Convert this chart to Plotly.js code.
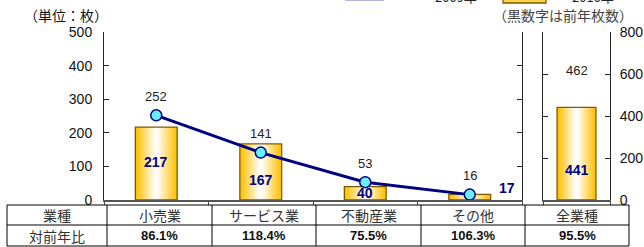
<!DOCTYPE html>
<html><head><meta charset="utf-8">
<script src="https://cdn.plot.ly/plotly-3.0.1.min.js"></script>
<style>html,body{margin:0;padding:0;background:#fff;}#chart{width:644px;height:247px;}</style>
</head><body><div id="chart"></div>
<script>
// ---- data ----
const categories = ['小売業', 'サービス業', '不動産業', 'その他'];
const prevYear = [252, 141, 53, 16];      // 2009年 (line, black numbers)
const currYear = [217, 167, 40, 17];      // 2010年 (bars)
const totalCategory = ['全業種'];
const totalPrev = [462];
const totalCurr = [441];
const headerRow = ['業種', '小売業', 'サービス業', '不動産業', 'その他', '全業種'];
const ratioRow = ['対前年比', '86.1%', '118.4%', '75.5%', '106.3%', '95.5%'];
const legendNames = ['2009年', '2010年'];

// ---- styles ----
const W = 644, H = 247;
const NUM_FONT = 'Liberation Sans, Arial, sans-serif';
const JP_FONT = 'Noto Sans CJK JP, sans-serif';
const GOLD = [255, 192, 0];
const NAVY = '#000080';
const barLabelShift = [2, -8, 0, 9];
const barLabelXShift = [0, 0, 0, 37];
const tableCols = [7, 107, 212, 316, 421, 525, 629];   // pixel column edges
const tableRows = [205, 225, 246];                      // pixel row edges

function mix(t) {
  const c = GOLD.map(v => Math.round(v + (255 - v) * t));
  return 'rgb(' + c.join(',') + ')';
}
function gradientBars(x, y, xa, ya, width) {
  const N = 14, out = [];
  for (let i = 0; i < N; i++) {
    out.push({type: 'bar', x: x, y: y, xaxis: xa, yaxis: ya, width: width * (1 - i / N),
      marker: {color: mix(i / (N - 1)), line: {width: 0}}, hoverinfo: 'skip', showlegend: false});
  }
  out.push({type: 'bar', x: x, y: y, xaxis: xa, yaxis: ya, width: width,
    marker: {color: 'rgba(0,0,0,0)', line: {width: 1.3, color: '#7a5c00'}}, hoverinfo: 'skip', showlegend: false});
  return out;
}
const px = x => x / W, py = y => 1 - y / H;

const traces = [];
traces.push(...gradientBars(categories, currYear, 'x', 'y', 0.4));
traces.push(...gradientBars(totalCategory, totalCurr, 'x2', 'y2', 0.58));
traces.push({type: 'scatter', mode: 'lines+markers', x: categories, y: prevYear,
  xaxis: 'x', yaxis: 'y',
  line: {color: NAVY, width: 3}, marker: {size: 11, color: '#66f0ff', line: {color: NAVY, width: 1.5}},
  hoverinfo: 'skip', showlegend: false, cliponaxis: false});

const annotations = [];
prevYear.forEach((v, i) => annotations.push({x: categories[i], y: v, xref: 'x', yref: 'y',
  text: String(v), showarrow: false, yshift: 19, xanchor: 'center', yanchor: 'middle',
  font: {family: NUM_FONT, size: 13, color: '#222'}}));
currYear.forEach((v, i) => annotations.push({x: categories[i], y: v / 2, xref: 'x', yref: 'y',
  text: '<b>' + v + '</b>', showarrow: false, yshift: barLabelShift[i], xshift: barLabelXShift[i],
  xanchor: 'center', yanchor: 'middle', font: {family: NUM_FONT, size: 14, color: NAVY}}));
annotations.push({x: totalCategory[0], y: totalCurr[0] / 2, xref: 'x2', yref: 'y2', text: '<b>' + totalCurr[0] + '</b>',
  showarrow: false, yshift: -16, xanchor: 'center', yanchor: 'middle', font: {family: NUM_FONT, size: 14, color: NAVY}});
annotations.push({x: totalCategory[0], y: totalPrev[0], xref: 'x2', yref: 'y2', text: String(totalPrev[0]),
  showarrow: false, yshift: 32, xanchor: 'center', yanchor: 'middle', font: {family: NUM_FONT, size: 13, color: '#222'}});
annotations.push({x: px(66), y: py(15), xref: 'paper', yref: 'paper', text: '（単位：枚）',
  showarrow: false, xanchor: 'center', yanchor: 'middle', font: {family: JP_FONT, size: 14, color: '#111'}});
annotations.push({x: px(563), y: py(15), xref: 'paper', yref: 'paper', text: '（黒数字は前年枚数）',
  showarrow: false, xanchor: 'center', yanchor: 'middle', font: {family: JP_FONT, size: 14, color: '#444'}});
annotations.push({x: px(456), y: py(-4), xref: 'paper', yref: 'paper', text: legendNames[0],
  showarrow: false, xanchor: 'center', yanchor: 'middle', font: {family: JP_FONT, size: 13, color: '#222'}});
annotations.push({x: px(593), y: py(-4), xref: 'paper', yref: 'paper', text: legendNames[1],
  showarrow: false, xanchor: 'center', yanchor: 'middle', font: {family: JP_FONT, size: 13, color: '#222'}});

// table text
headerRow.forEach((t, i) => annotations.push({x: px((tableCols[i] + tableCols[i + 1]) / 2),
  y: py((tableRows[0] + tableRows[1]) / 2), xref: 'paper', yref: 'paper', text: t, showarrow: false,
  xanchor: 'center', yanchor: 'middle', font: {family: JP_FONT, size: 14, color: '#333'}}));
ratioRow.forEach((t, i) => annotations.push({x: px((tableCols[i] + tableCols[i + 1]) / 2),
  y: py((tableRows[1] + tableRows[2]) / 2), xref: 'paper', yref: 'paper',
  text: i === 0 ? t : '<b>' + t + '</b>', showarrow: false, xanchor: 'center', yanchor: 'middle',
  font: i === 0 ? {family: JP_FONT, size: 14, color: '#333'} : {family: NUM_FONT, size: 13, color: '#111'}}));

const shapes = [
  {type: 'rect', xref: 'paper', yref: 'paper', x0: px(503), x1: px(546), y0: py(3), y1: py(-10),
    fillcolor: '#ffd24d', line: {color: '#7a5c00', width: 1.3}},
  {type: 'line', xref: 'paper', yref: 'paper', x0: px(345), x1: px(384), y0: py(-1), y1: py(-1),
    line: {color: '#6a6ad0', width: 3}}
];
tableRows.forEach(r => shapes.push({type: 'line', xref: 'paper', yref: 'paper',
  x0: px(tableCols[0]), x1: px(tableCols[tableCols.length - 1]), y0: py(r), y1: py(r), line: {color: '#000', width: 1}}));
tableCols.forEach(c => shapes.push({type: 'line', xref: 'paper', yref: 'paper',
  x0: px(c), x1: px(c), y0: py(tableRows[0]), y1: py(tableRows[tableRows.length - 1]), line: {color: '#000', width: 1}}));

const yCommon = {ticks: 'inside', ticklen: 5, tickwidth: 1, tickcolor: '#222', showline: true, linecolor: '#222',
  linewidth: 1, mirror: 'ticks', showgrid: false, zeroline: false, ticklabelstandoff: 8,
  tickfont: {family: NUM_FONT, size: 14, color: '#111'}, fixedrange: true};
const xCommon = {showticklabels: false, showline: true, linecolor: '#555', linewidth: 2, ticks: 'outside',
  tickson: 'boundaries', ticklen: 3, tickcolor: '#444', showgrid: false, zeroline: false, fixedrange: true};

const layout = {
  width: W, height: H, margin: {l: 0, r: 0, t: 0, b: 0},
  paper_bgcolor: '#fff', plot_bgcolor: 'rgba(0,0,0,0)', barmode: 'overlay', showlegend: false,
  xaxis: Object.assign({}, xCommon, {domain: [px(104), px(522)], anchor: 'y'}),
  yaxis: Object.assign({}, yCommon, {domain: [py(200), py(32)], range: [0, 500], dtick: 100, anchor: 'x'}),
  xaxis2: Object.assign({}, xCommon, {domain: [px(543), px(610)], anchor: 'y2'}),
  yaxis2: Object.assign({}, yCommon, {domain: [py(200), py(32)], range: [0, 800], dtick: 200, anchor: 'x2', side: 'right', ticklabelstandoff: 6}),
  annotations: annotations, shapes: shapes
};
Plotly.newPlot('chart', traces, layout, {displayModeBar: false, staticPlot: true});
</script></body></html>
